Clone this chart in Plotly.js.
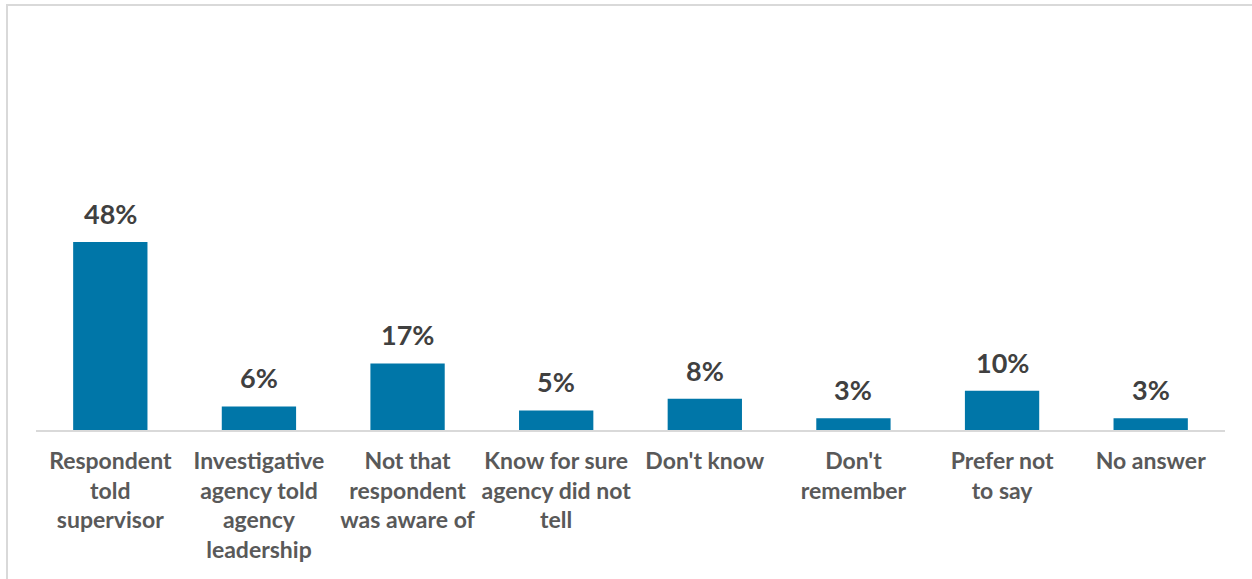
<!DOCTYPE html>
<html>
<head>
<meta charset="utf-8">
<script src="https://cdn.plot.ly/plotly-3.0.1.min.js"></script>
<style>
  html, body { margin: 0; padding: 0; background: #fff; }
  #frame { position: absolute; left: 6px; top: 4px; width: 1260px; height: 600px;
           border-left: 2px solid #d9d9d9; border-top: 2px solid #d9d9d9; }
  #chart { position: absolute; left: 0; top: 0; width: 1252px; height: 579px; }
</style>
</head>
<body>
<div id="frame"></div>
<div id="chart"></div>
<script>
const categories = [
  "Respondent<br>told<br>supervisor",
  "Investigative<br>agency told<br>agency<br>leadership",
  "Not that<br>respondent<br>was aware of",
  "Know for sure<br>agency did not<br>tell",
  "Don't know",
  "Don't<br>remember",
  "Prefer not<br>to say",
  "No answer"
];
const values = [48, 6, 17, 5, 8, 3, 10, 3];
const valueLabels = ["48%", "6%", "17%", "5%", "8%", "3%", "10%", "3%"];

const fontFamily = "Lato, 'Open Sans', sans-serif";

const trace = {
  type: "bar",
  x: categories,
  y: values,
  marker: { color: "#0076a8" },
  hoverinfo: "skip"
};

const annotations = categories.map((c, i) => ({
  x: c, y: values[i], xref: "x", yref: "y",
  text: "<b>" + valueLabels[i] + "</b>",
  showarrow: false, yanchor: "bottom", yshift: 10,
  font: { family: fontFamily, size: 27, color: "#404040" }
}));

const layout = {
  width: 1252, height: 579,
  margin: { l: 36, r: 27, t: 30, b: 149 },
  paper_bgcolor: "rgba(0,0,0,0)",
  plot_bgcolor: "rgba(0,0,0,0)",
  bargap: 0.5,
  showlegend: false,
  xaxis: {
    type: "category",
    showgrid: false, zeroline: false,
    showline: true, linecolor: "#d9d9d9", linewidth: 2,
    ticks: "", ticklabelstandoff: 9,
    tickfont: { family: fontFamily, size: 23, color: "#595959", weight: "bold" }
  },
  yaxis: {
    range: [0, 102.1],
    visible: false, showgrid: false, zeroline: false
  },
  annotations: annotations
};

Plotly.newPlot("chart", [trace], layout, { displayModeBar: false, staticPlot: true });
</script>
</body>
</html>
